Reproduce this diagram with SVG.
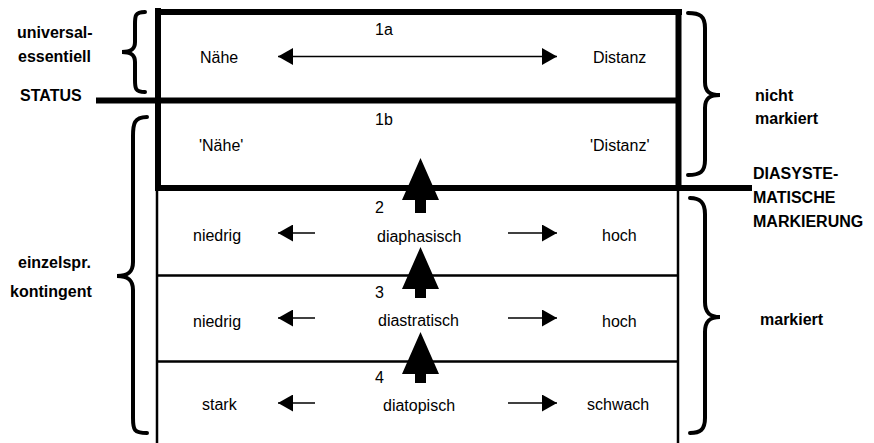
<svg xmlns="http://www.w3.org/2000/svg" width="874" height="443" viewBox="0 0 874 443">
<style>
text{font-family:"Liberation Sans",Arial,sans-serif;font-size:16px;fill:#000}
.b{font-weight:bold}
.thick{stroke:#000;stroke-width:6;fill:none}
.thin{stroke:#000;stroke-width:2.5;fill:none}
.brace{stroke:#000;stroke-width:4;fill:none;stroke-linecap:round}
.al{stroke:#000;stroke-width:1.5;fill:none}
.head{fill:#000}
</style>
<defs>
<marker id="ah" viewBox="0 0 15 17" refX="15" refY="8.5" markerWidth="15" markerHeight="17" markerUnits="userSpaceOnUse" orient="auto-start-reverse">
<path d="M0,0 L15,8.5 L0,17 Z" class="head"/>
</marker>
</defs>
<rect width="874" height="443" fill="#fff"/>

<g id="frame">
<path class="thick" d="M158,8 V191 M678.5,9 V191 M155,12 H682 M96,100.5 H681 M155,188 H752"/>
<path class="thin" d="M157,188 V443 M678,188 V443 M157,275.5 H678 M157,361.5 H678"/>
</g>

<g id="row1a">
<text x="375" y="35">1a</text>
<text x="200" y="63">Nähe</text>
<text x="593" y="63">Distanz</text>
</g>
<g id="row1b">
<text x="375" y="125">1b</text>
<text x="199" y="151">'Nähe'</text>
<text x="590" y="151">'Distanz'</text>
</g>
<g id="row2">
<text x="375" y="213">2</text>
<text x="193" y="241">niedrig</text>
<text x="377" y="242">diaphasisch</text>
<text x="602" y="241">hoch</text>
</g>
<g id="row3">
<text x="375" y="298">3</text>
<text x="193" y="327">niedrig</text>
<text x="378" y="326">diastratisch</text>
<text x="602" y="327">hoch</text>
</g>
<g id="row4">
<text x="375" y="383">4</text>
<text x="202" y="410">stark</text>
<text x="383" y="411">diatopisch</text>
<text x="587" y="410">schwach</text>
</g>

<g id="label-universal">
<text class="b" x="17" y="38">universal-</text>
<text class="b" x="18" y="62">essentiell</text>
</g>
<g id="label-status"><text class="b" x="20" y="101">STATUS</text></g>
<g id="label-einzelspr">
<text class="b" x="18" y="268">einzelspr.</text>
<text class="b" x="10" y="297">kontingent</text>
</g>
<g id="label-nicht">
<text class="b" x="755" y="101">nicht</text>
<text class="b" x="755" y="124">markiert</text>
</g>
<g id="label-diasys">
<text class="b" x="753" y="179">DIASYSTE-</text>
<text class="b" x="753" y="203">MATISCHE</text>
<text class="b" x="753" y="227">MARKIERUNG</text>
</g>
<g id="label-markiert"><text class="b" x="760" y="325">markiert</text></g>

<g id="braces">
<path class="brace" d="M145,12 C135,12 135,16 135,24 V42 C135,50 130,52 122,52 C130,52 135,54 135,62 V80 C135,88 135,92 145,92"/>
<path class="brace" d="M147,117 C134,117 133,124 133,136 V262 C133,272 128,276 117,276 C128,276 133,280 133,290 V418 C133,430 134,433 147,433"/>
<path class="brace" d="M688,13 C700,13 705,16 705,28 V82 C705,92 710,95 720,95 C710,95 705,98 705,108 V160 C705,172 700,175 688,175"/>
<path class="brace" d="M690,198 C700,198 705,202 705,214 V302 C705,313 710,317 720,317 C710,317 705,321 705,332 V418 C705,430 700,433 690,433"/>
</g>

<g id="connectors">
<path class="al" d="M278,56.5 H557" marker-start="url(#ah)" marker-end="url(#ah)"/>
<path class="al" d="M315,233 H278" marker-end="url(#ah)"/>
<path class="al" d="M508,233 H557" marker-end="url(#ah)"/>
<path class="al" d="M315,318 H278" marker-end="url(#ah)"/>
<path class="al" d="M508,318 H557" marker-end="url(#ah)"/>
<path class="al" d="M315,403 H278" marker-end="url(#ah)"/>
<path class="al" d="M508,403 H557" marker-end="url(#ah)"/>
<path class="head" d="M420.5,158 L439,200 L426,200 L426,213 L415,213 L415,200 L402,200 Z"/>
<path class="head" d="M420.5,247 L439,289 L426,289 L426,298 L415,298 L415,289 L402,289 Z"/>
<path class="head" d="M420.5,332 L439,374 L426,374 L426,383 L415,383 L415,374 L402,374 Z"/>
</g>
</svg>
